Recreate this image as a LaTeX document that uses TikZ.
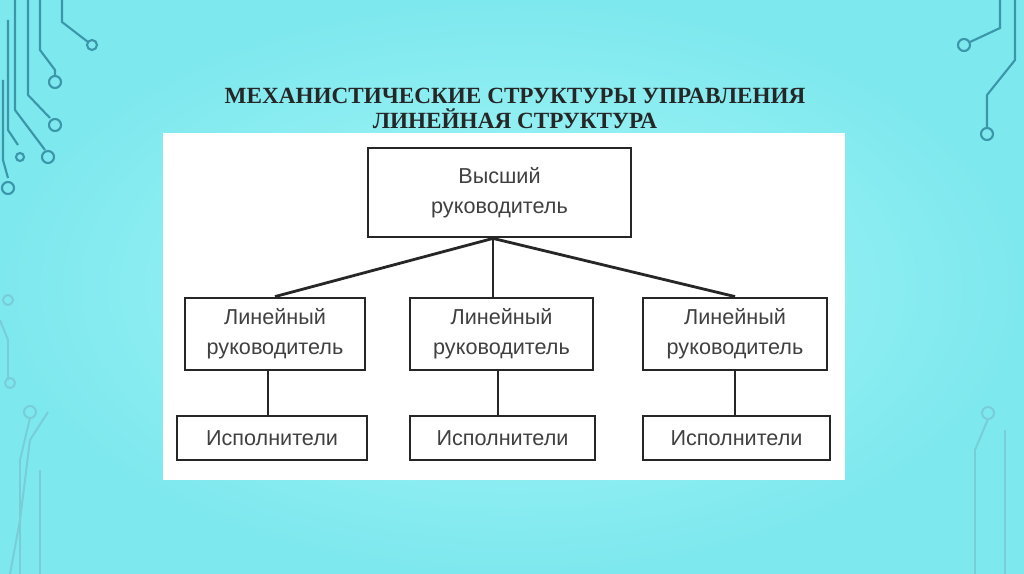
\documentclass[tikz,border=0pt]{standalone}
\usepackage{fontspec}
\setmainfont{Liberation Serif}
\newfontfamily\boxfont{Liberation Sans}
\begin{document}
\begin{tikzpicture}[x=0.02cm,y=-0.02cm,
  bx/.style={draw=black!85,line width=1.6pt,fill=white,font=\boxfont\fontsize{12.3}{17}\selectfont,text=black!75,align=center,inner sep=0pt},
  ln/.style={black!85,line width=1.6pt},
  dec/.style={draw={rgb,255:red,60;green,150;blue,170},line width=1.2pt},
  decf/.style={draw={rgb,255:red,120;green,205;blue,215},line width=1.1pt},
  ttl/.style={font=\bfseries\fontsize{13.2}{14}\selectfont,text=black!85}]
\useasboundingbox (0,0) rectangle (1024,574);
\shade[inner color={rgb,255:red,170;green,248;blue,248},outer color={rgb,255:red,125;green,232;blue,238}] (0,0) rectangle (1024,574);
% decorations left
\draw[dec] (62,0) -- (62,22) -- (88,42); \draw[dec] (92,45) circle (5);
\draw[dec] (40,0) -- (40,50) -- (55,70) -- (55,76); \draw[dec] (55,82) circle (6);
\draw[dec] (28,0) -- (28,95) -- (50,118); \draw[dec] (55,125) circle (6);
\draw[dec] (15,0) -- (15,110) -- (45,150); \draw[dec] (48,157) circle (6);
\draw[dec] (8,20) -- (8,130) -- (18,145); \draw[dec] (20,157) circle (4);
\draw[dec] (3,80) -- (3,160) -- (8,178); \draw[dec] (8,188) circle (6);
% right
\draw[dec] (1000,0) -- (1000,28) -- (970,42); \draw[dec] (964,45) circle (6);
\draw[dec] (1015,0) -- (1015,60) -- (987,95) -- (987,127); \draw[dec] (987,134) circle (6);
% faint lower
\draw[decf] (8,300) circle (5); \draw[decf] (0,320) -- (8,340) -- (8,380);
\draw[decf] (10,383) circle (5); \draw[decf] (30,412) circle (6); \draw[decf] (48,412) -- (30,440) -- (20,520) -- (10,574);
\draw[decf] (40,470) -- (40,574); \draw[decf] (30,418) -- (20,460) -- (20,574);
\draw[decf] (988,413) circle (6); \draw[decf] (988,419) -- (975,450) -- (975,574);
\draw[decf] (1005,430) -- (1005,574);
% title
\node[ttl] (t1) at (515,96) {МЕХАНИСТИЧЕСКИЕ СТРУКТУРЫ УПРАВЛЕНИЯ};
\node[ttl] (t2) at (515,119) {ЛИНЕЙНАЯ СТРУКТУРА};
% panel
\fill[white] (163,133) rectangle (845,480);
\node[bx,minimum width=263*0.02cm,minimum height=89*0.02cm] (top) at (499.5,192.5) {Высший\\руководитель};
\foreach \n/\x/\w in {a/275/180,b/501.5/183,c/735/184}{
  \node[bx,minimum width=\w*0.02cm,minimum height=72*0.02cm] (m\n) at (\x,334) {Линейный\\руководитель};}
\foreach \n/\x/\w in {a/272/190,b/502.5/185,c/736.5/187}{
  \node[bx,minimum width=\w*0.02cm,minimum height=44*0.02cm] (b\n) at (\x,438) {Исполнители};}
\coordinate (j) at (top.south -| 493,0);
\coordinate (jb) at (mb.north -| 493,0);
\draw[ln] (j) -- (ma.north);
\draw[ln] (j) -- (jb);
\draw[ln] (j) -- (mc.north);
\foreach \n/\x in {a/268,b/498,c/735}{
  \coordinate (u\n) at (m\n.south -| \x,0);
  \coordinate (d\n) at (b\n.north -| \x,0);
  \draw[ln] (u\n) -- (d\n);}
\end{tikzpicture}
\end{document}
